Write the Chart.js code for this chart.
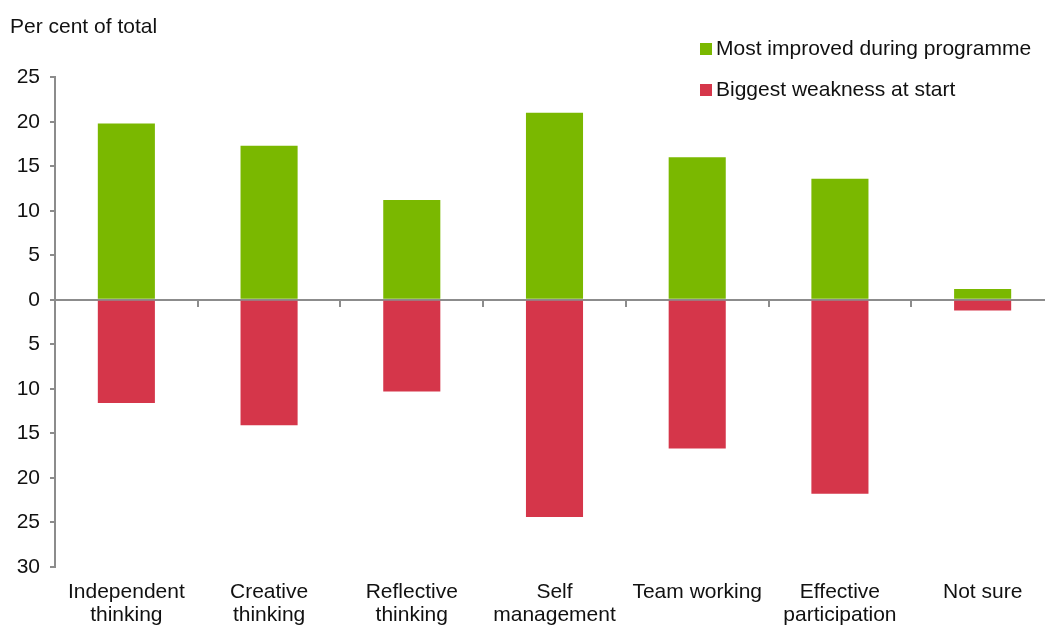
<!DOCTYPE html>
<html>
<head>
<meta charset="utf-8">
<script src="https://cdn.jsdelivr.net/npm/chart.js@4/dist/chart.umd.min.js"></script>
<style>
  html, body { margin: 0; padding: 0; background: #fff; overflow: hidden; }
  #wrap { position: relative; width: 1054px; height: 665px; }
  #legend { position: absolute; left: 700px; top: 36px; font-family: "Liberation Sans", Arial, sans-serif; font-size: 21px; color: #111; }
  #legend div { height: 41px; display: flex; align-items: flex-start; }
  #legend span.box { display: inline-block; width: 12px; height: 12px; margin: 7px 4px 0 0; }
</style>
</head>
<body>
<div id="wrap">
  <canvas id="skills" width="1054" height="665"></canvas>
  <div id="legend"></div>
</div>
<script>
var skills = [["Independent", "thinking"], ["Creative", "thinking"], ["Reflective", "thinking"],
              ["Self", "management"], "Team working", ["Effective", "participation"], "Not sure"];
var improved = [19.8, 17.3, 11.2, 21.0, 16.0, 13.6, 1.2];
var weakness = [11.6, 14.1, 10.3, 24.4, 16.7, 21.8, 1.2];
var yTicks = [25, 20, 15, 10, 5, 0, 5, 10, 15, 20, 25, 30];

var green = "#7ab800";
var red = "#d5364a";
var axisGrey = "#8c8c8c";

document.addEventListener("DOMContentLoaded", function() {
    var chart = new Chart(document.getElementById("skills"), {
        type: 'bar',
        data: {
            labels: skills,
            datasets: [
                {
                    label: "Most improved during programme",
                    backgroundColor: green,
                    data: improved,
                    barPercentage: 0.4,
                    categoryPercentage: 1
                },
                {
                    label: "Biggest weakness at start",
                    backgroundColor: red,
                    // weaknesses hang below the zero line
                    data: weakness.map(function(v) { return -v; }),
                    barPercentage: 0.4,
                    categoryPercentage: 1
                }
            ]
        },
        options: {
            responsive: false,
            animation: false,
            layout: { padding: { left: 10, right: 0, top: 0, bottom: 24 } },
            plugins: {
                legend: { display: false },
                tooltip: { enabled: false },
                title: {
                    display: true,
                    text: 'Per cent of total',
                    align: 'start',
                    color: '#111',
                    font: { family: 'Liberation Sans', size: 21, weight: 'normal' },
                    padding: { top: 15, bottom: 37 }
                }
            },
            scales: {
                x: {
                    type: 'category',
                    position: { y: 0 },
                    stacked: true,
                    offset: true,
                    ticks: { display: false },
                    grid: { offset: true, drawOnChartArea: false, drawTicks: true, tickLength: 6, color: axisGrey, lineWidth: 2 },
                    border: { color: axisGrey, width: 2 }
                },
                xLabels: {
                    type: 'category',
                    position: 'bottom',
                    offset: true,
                    grid: { display: false, drawTicks: false },
                    border: { display: false },
                    ticks: {
                        padding: 14,
                        color: '#111',
                        maxRotation: 0,
                        autoSkip: false,
                        font: { family: 'Liberation Sans', size: 21, lineHeight: 1.1 }
                    }
                },
                y: {
                    stacked: true,
                    min: -30,
                    max: 25,
                    afterFit: function(scale) { scale.width = 45; },
                    afterBuildTicks: function(scale) {
                        scale.ticks = yTicks.map(function(t, i) { return { value: i <= 5 ? t : -t }; });
                    },
                    ticks: {
                        padding: 10,
                        color: '#111',
                        font: { family: 'Liberation Sans', size: 21 },
                        callback: function(v) { return Math.abs(v); }
                    },
                    grid: { drawOnChartArea: false, drawTicks: true, tickLength: 5, color: axisGrey, lineWidth: 2 },
                    border: { color: axisGrey, width: 2 }
                }
            }
        }
    });

    var legend = document.getElementById("legend");
    chart.data.datasets.forEach(function(ds) {
        var row = document.createElement("div");
        var box = document.createElement("span");
        box.className = "box";
        box.style.background = ds.backgroundColor;
        row.appendChild(box);
        row.appendChild(document.createTextNode(ds.label));
        legend.appendChild(row);
    });
});
</script>
</body>
</html>
